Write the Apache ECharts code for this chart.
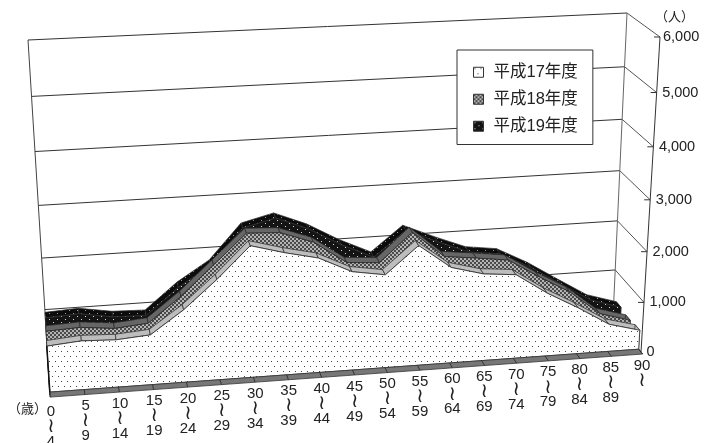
<!DOCTYPE html>
<html><head><meta charset="utf-8">
<style>html,body{margin:0;padding:0;background:#fff}#c{width:717px;height:443px}</style>
<script src="https://cdn.jsdelivr.net/npm/echarts@6/dist/echarts.min.js"></script>
</head><body><div id="c"></div>
<script>
const ageStart = ['0','5','10','15','20','25','30','35','40','45','50','55','60','65','70','75','80','85','90'];
const ageEnd   = ['4','9','14','19','24','29','34','39','44','49','54','59','64','69','74','79','84','89',''];
const yTicks   = [0,1000,2000,3000,4000,5000,6000];
const h17 = [885,940,915,965,1400,1935,2530,2360,2220,1920,1820,2340,1880,1715,1660,1255,920,550,385];
const h18 = [955,985,920,975,1450,2010,2575,2545,2325,1895,1850,2400,1890,1820,1740,1365,1020,540,360];
const h19 = [1000,1035,930,910,1415,1805,2480,2635,2385,2040,1755,2240,1975,1735,1655,1340,960,590,400];
const names = ['平成17年度','平成18年度','平成19年度'];

const FONT = '"Liberation Sans","Noto Sans CJK JP",sans-serif';
const C = {
  bfl:[50,395], bfr:[641,352], bbl:[48,360], bbr:[613,318],
  tfl:[28,64],  tfr:[660,37],  tbl:[28,40],  tbr:[627,13]
};
const lerp=(a,b,t)=>a+(b-a)*t;
function proj(u0,s,d){
  const t=s/(1+0.07*(1-s));
  const u=u0/(1-0.054*(1-u0));
  const out=[];
  for(let k=0;k<2;k++){
    const bf=lerp(C.bfl[k],C.bfr[k],u), bb=lerp(C.bbl[k],C.bbr[k],u);
    const tf=lerp(C.tfl[k],C.tfr[k],u), tb=lerp(C.tbl[k],C.tbr[k],u);
    out.push(lerp(lerp(bf,bb,d),lerp(tf,tb,d),t));
  }
  return out;
}
const GRID={left:100,top:50,width:500,height:300};
function at(api,i,v,d){
  const p=api.coord([i,v]);
  return proj((p[0]-GRID.left)/GRID.width,(GRID.top+GRID.height-p[1])/GRID.height,d);
}
function pattern(w,h,bg,dots,col,cell){
  const c=document.createElement('canvas');c.width=w;c.height=h;
  const x=c.getContext('2d');x.fillStyle=bg;x.fillRect(0,0,w,h);x.fillStyle=col;
  dots.forEach(p=>x.fillRect(p[0],p[1],cell||1,cell||1));
  return {image:c,repeat:'repeat'};
}
const p17=pattern(12,10,'#ffffff',[[1,1],[7,1],[4,6],[10,6]],'#444');
const p18=pattern(4,4,'#b4b4b4',[[0,0],[2,2]],'#4a4a4a',2);
const p19=pattern(8,6,'#141414',[[1,1],[5,4]],'#d8d8d8');
const p19t=pattern(8,6,'#0c0c0c',[[1,1],[5,4]],'#9a9a9a');

function slab(name,vals,d0,d1,faceFill,topFill,z){
  return {
    type:'custom',name,z,silent:true,clip:false,
    data:vals,
    itemStyle:{color:faceFill,borderColor:'#333',borderWidth:1},
    encode:{x:0,y:1},
    renderItem(params,api){
      if(params.dataIndex!==0) return null;
      const ch=[], n=vals.length;
      for(let i=0;i<n-1;i++){
        ch.push({type:'polygon',shape:{points:[at(api,i,vals[i],d0),at(api,i+1,vals[i+1],d0),at(api,i+1,vals[i+1],d1),at(api,i,vals[i],d1)]},
          style:{fill:topFill,stroke:'#2a2a2a',lineWidth:0.7}});
      }
      ch.push({type:'polygon',shape:{points:[at(api,n-1,vals[n-1],d0),at(api,n-1,vals[n-1],d1),at(api,n-1,0,d1),at(api,n-1,0,d0)]},
        style:{fill:topFill,stroke:'#2a2a2a',lineWidth:0.7}});
      const pts=[at(api,0,0,d0)];
      for(let i=0;i<n;i++) pts.push(at(api,i,vals[i],d0));
      pts.push(at(api,n-1,0,d0));
      ch.push({type:'polygon',shape:{points:pts},style:{fill:faceFill,stroke:'#2a2a2a',lineWidth:0.8}});
      return {type:'group',children:ch};
    }
  };
}
const frame={
  type:'custom',name:'frame',z:1,silent:true,clip:false,
  data:yTicks,encode:{x:0,y:1},
  renderItem(params,api){
    if(params.dataIndex!==0) return null;
    const ch=[], L=(a,b,c,w)=>ch.push({type:'line',shape:{x1:a[0],y1:a[1],x2:b[0],y2:b[1]},style:{stroke:c,lineWidth:w||1}});
    const T=(text,x,y,o)=>ch.push({type:'text',style:Object.assign({text,x,y,fill:'#222',font:'14.5px '+FONT},o||{})});
    yTicks.forEach(v=>{
      const a=at(api,0,v,1),b=at(api,18,v,1),c=at(api,18,v,0);
      L(a,b,'#333'); L(b,c,'#555');
      L([c[0]-6,c[1]],c,'#333');
      T(v.toLocaleString('en-US'),c[0]+(v===6000?3:5.5),c[1],{align:'left',verticalAlign:'middle'});
    });
    L(at(api,0,0,1),at(api,0,6000,1),'#444');
    L(at(api,0,0,0),at(api,0,0,1),'#222',1.5);
    L(at(api,18,0,1),at(api,18,6000,1),'#666');
    L(at(api,18,0,0),at(api,18,6000,0),'#333');
    T('（人）',655,16,{font:'13px "Noto Sans CJK JP",sans-serif',align:'left',verticalAlign:'middle'});
    T('（歳）',8,408,{font:'13px "Noto Sans CJK JP",sans-serif',align:'left',verticalAlign:'middle'});
    return {type:'group',children:ch};
  }
};
const floorBand={
  type:'custom',name:'axis',z:6,silent:true,clip:false,
  data:ageStart.map((s,i)=>i),encode:{x:0,y:1},
  renderItem(params,api){
    if(params.dataIndex!==0) return null;
    const ch=[], n=ageStart.length, D0=0.083, D1=-0.06;
    ch.push({type:'polygon',shape:{points:[at(api,0,0,D0),at(api,n-1,0,D0),at(api,n-1,0,D1),at(api,0,0,D1)]},style:{fill:'#777',stroke:'#333',lineWidth:0.8}});
    const e0=at(api,0,0,D0),e1=at(api,0,h17[0],D0);
    ch.push({type:'line',shape:{x1:e0[0],y1:e0[1],x2:e1[0],y2:e1[1]},style:{stroke:'#111',lineWidth:1.5}});
    ageStart.forEach((s,i)=>{
      const a=at(api,i,0,D0),b=at(api,i,0,D1),e=at(api,i,0,0);
      ch.push({type:'line',shape:{x1:a[0],y1:a[1],x2:b[0],y2:b[1]},style:{stroke:'#222',lineWidth:0.8}});
      const x=e[0]+1, y=e[1]+13.5+(i===0?3.5:0);
      const tx=(text,yy,font)=>ch.push({type:'text',style:{text,x,y:yy,align:'center',verticalAlign:'middle',fill:'#222',font}});
      tx(s,y,'15px '+FONT);
      tx('≀',y+15,'20px "DejaVu Sans",sans-serif');
      if(ageEnd[i]) tx(ageEnd[i],y+30,'15px '+FONT);
    });
    return {type:'group',children:ch};
  }
};

const chart=echarts.init(document.getElementById('c'),null,{renderer:'canvas'});
chart.setOption({
  animation:false,
  backgroundColor:'#fff',
  grid:Object.assign({},GRID),
  xAxis:{type:'category',data:ageStart,boundaryGap:false,show:false},
  yAxis:{type:'value',min:0,max:6000,interval:1000,show:false},
  legend:{
    data:names,orient:'vertical',left:457,top:50,
    padding:[14,15,10,16],itemWidth:10,itemHeight:10,itemGap:10.5,
    backgroundColor:'#fff',borderColor:'#333',borderWidth:1,
    selectedMode:false,icon:'rect',
    textStyle:{fontFamily:FONT,fontSize:16.5,color:'#222',lineHeight:16,padding:[0,0,0,5]},
    itemStyle:{borderColor:'#333',borderWidth:1},
    z:20
  },
  series:[
    frame,
    slab(names[2],h19,0.75,0.917,p19,p19t,2),
    slab(names[1],h18,0.417,0.583,p18,'#666',3),
    slab(names[0],h17,0.083,0.25,p17,'#bdbdbd',4),
    floorBand
  ]
});
</script></body></html>
